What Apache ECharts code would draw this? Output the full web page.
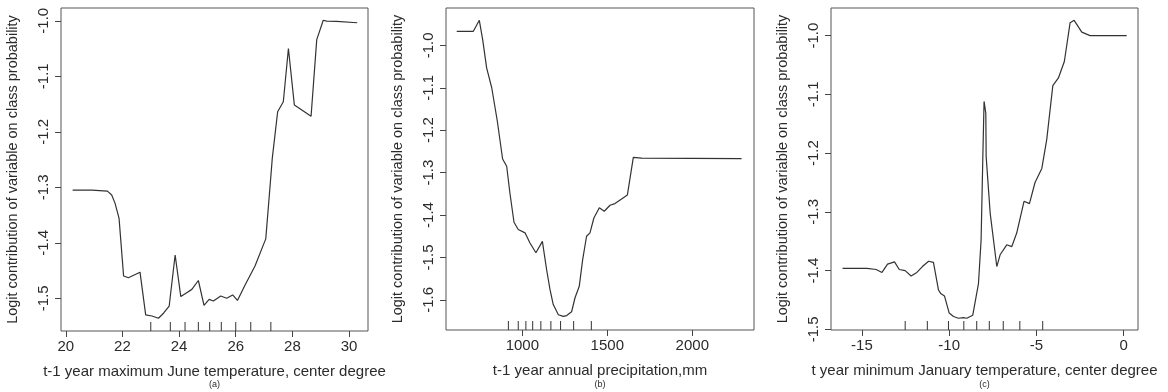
<!DOCTYPE html>
<html>
<head>
<meta charset="utf-8">
<script src="https://cdn.jsdelivr.net/npm/echarts@6/dist/echarts.min.js"></script>
<style>
html,body{margin:0;padding:0;background:#fff;}
#c{width:1168px;height:392px;}
</style>
</head>
<body>
<div id="c"></div>
<script>
// ---- Panel (a): t-1 year maximum June temperature
const aX = [20.24,20.92,20.96,21.47,21.62,21.74,21.88,22.04,22.21,22.62,22.82,23.04,23.27,23.45,23.65,23.86,24.06,24.27,24.45,24.68,24.88,25.06,25.21,25.47,25.68,25.89,26.06,26.33,26.68,27.06,27.21,27.29,27.48,27.68,27.86,28.07,28.66,28.86,29.09,29.21,29.56,29.62,30.29];
const aY = [-1.305,-1.305,-1.307,-1.307,-1.314,-1.329,-1.356,-1.46,-1.463,-1.453,-1.53,-1.532,-1.536,-1.527,-1.514,-1.422,-1.497,-1.49,-1.484,-1.468,-1.513,-1.502,-1.505,-1.496,-1.5,-1.494,-1.504,-1.476,-1.442,-1.393,-1.299,-1.248,-1.164,-1.146,-1.05,-1.152,-1.172,-1.034,-0.999,-1.0006,-1.001,-1.0036,-1.0036];
const aRug = [23.0,23.69,24.21,24.68,25.08,25.49,26.0,26.53,27.24];
const aXTicks = [20,22,24,26,28,30];
const aYTicks = [-1.5,-1.4,-1.3,-1.2,-1.1,-1.0];

// ---- Panel (b): t-1 year annual precipitation
const bX = [614,712,747,767,790,820,853,884,908,927,951,976,1016,1045,1080,1118,1143,1163,1182,1212,1241,1261,1290,1310,1335,1355,1378,1398,1421,1453,1482,1516,1545,1584,1618,1653,1702,2290];
const bY = [-0.967,-0.967,-0.941,-0.987,-1.053,-1.1,-1.179,-1.268,-1.285,-1.348,-1.417,-1.434,-1.442,-1.466,-1.489,-1.462,-1.529,-1.576,-1.611,-1.635,-1.639,-1.637,-1.628,-1.595,-1.568,-1.505,-1.45,-1.442,-1.407,-1.383,-1.391,-1.377,-1.373,-1.362,-1.353,-1.264,-1.266,-1.267];
const bRug = [918,976,1021,1061,1109,1168,1225,1302,1406];
const bXTicks = [1000,1500,2000];
const bYTicks = [-1.6,-1.5,-1.4,-1.3,-1.2,-1.1,-1.0];

// ---- Panel (c): t year minimum January temperature
const cX = [-16.11,-14.71,-14.62,-14.18,-13.85,-13.53,-13.13,-12.86,-12.52,-12.18,-11.85,-11.53,-11.18,-10.9,-10.61,-10.48,-10.27,-10.0,-9.75,-9.47,-9.18,-8.99,-8.65,-8.32,-8.17,-8.07,-8.0,-7.9,-7.88,-7.65,-7.27,-7.08,-6.7,-6.41,-6.13,-5.71,-5.4,-5.08,-4.69,-4.41,-4.06,-3.74,-3.4,-3.07,-2.84,-2.4,-1.93,0.17];
const cY = [-1.396,-1.396,-1.398,-1.398,-1.403,-1.389,-1.385,-1.398,-1.4,-1.409,-1.403,-1.393,-1.384,-1.386,-1.433,-1.439,-1.443,-1.472,-1.478,-1.481,-1.48,-1.481,-1.476,-1.422,-1.348,-1.206,-1.112,-1.132,-1.206,-1.302,-1.393,-1.373,-1.356,-1.359,-1.336,-1.282,-1.286,-1.25,-1.226,-1.177,-1.085,-1.072,-1.044,-0.978,-0.974,-0.994,-1.0,-1.0];
const cRug = [-12.52,-11.25,-10.04,-9.16,-8.42,-7.7,-6.9,-5.95,-4.64];
const cXTicks = [-15,-10,-5,0];
const cYTicks = [-1.5,-1.4,-1.3,-1.2,-1.1,-1.0];

const yTitle = 'Logit contribution of variable on class probability';
const xTitles = ['t-1 year maximum June temperature, center degree','t-1 year annual precipitation,mm','t year minimum January temperature, center degree'];
const tags = ['(a)','(b)','(c)'];

const FONT = "'Liberation Sans', Arial, sans-serif";
const INK = '#2b2b2b';

const panels = [
  {x:aX, y:aY, rug:aRug, xt:aXTicks, yt:aYTicks, xr:[19.83,30.67], yr:[-1.559,-0.977], grid:{left:61, top:8, width:307, height:323}},
  {x:bX, y:bY, rug:bRug, xt:bXTicks, yt:bYTicks, xr:[551,2363], yr:[-1.671,-0.912], grid:{left:446, top:8, width:308, height:322}},
  {x:cX, y:cY, rug:cRug, xt:cXTicks, yt:cYTicks, xr:[-16.77,0.82], yr:[-1.501,-0.953], grid:{left:831, top:8, width:307, height:322}}
];

const grids=[], xAxes=[], yAxes=[], series=[], graphics=[];
panels.forEach((p,i)=>{
  grids.push(Object.assign({show:true, borderColor:'#555', borderWidth:1, backgroundColor:'transparent'}, p.grid));
  xAxes.push({
    type:'value', gridIndex:i, min:p.xr[0], max:p.xr[1],
    name:xTitles[i], nameLocation:'middle', nameGap:33,
    nameTextStyle:{fontFamily:FONT, fontSize:15, color:INK},
    axisLine:{show:false, onZero:false},
    axisTick:{show:true, length:6, lineStyle:{color:'#444'}, customValues:p.xt},
    axisLabel:{show:true, fontFamily:FONT, fontSize:15, color:INK, margin:8, customValues:p.xt, formatter:v=>String(v)},
    splitLine:{show:false}
  });
  yAxes.push({
    type:'value', gridIndex:i, min:p.yr[0], max:p.yr[1],
    name:yTitle, nameLocation:'middle', nameGap:41, nameRotate:90,
    nameTextStyle:{fontFamily:FONT, fontSize:14.5, color:INK},
    axisLine:{show:false, onZero:false},
    axisTick:{show:true, length:6, lineStyle:{color:'#444'}, customValues:p.yt},
    axisLabel:{show:true, rotate:90, fontFamily:FONT, fontSize:15, color:INK, margin:10, customValues:p.yt, formatter:v=>v.toFixed(1)},
    splitLine:{show:false}
  });
  series.push({
    type:'line', xAxisIndex:i, yAxisIndex:i,
    data:p.x.map((v,k)=>[v,p.y[k]]),
    showSymbol:false, smooth:false, animation:false,
    lineStyle:{color:'#333', width:1.2}
  });
  series.push({
    type:'custom', xAxisIndex:i, yAxisIndex:i, animation:false,
    data:p.rug.map(v=>[v, p.yr[0]]),
    renderItem:(params, api)=>{
      const pt = api.coord([api.value(0), api.value(1)]);
      return {type:'line', shape:{x1:pt[0], y1:pt[1], x2:pt[0], y2:pt[1]-9}, style:{stroke:'#333', lineWidth:1}};
    }
  });
  graphics.push({
    type:'text', x:p.grid.left + p.grid.width/2, y:385,
    style:{text:tags[i], fontFamily:FONT, fontSize:9, fill:INK, align:'center', verticalAlign:'middle'}
  });
});

const chart = echarts.init(document.getElementById('c'), null, {renderer:'canvas'});
chart.setOption({
  backgroundColor:'#fff',
  animation:false,
  grid:grids, xAxis:xAxes, yAxis:yAxes, series:series, graphic:graphics
});
</script>
</body>
</html>
